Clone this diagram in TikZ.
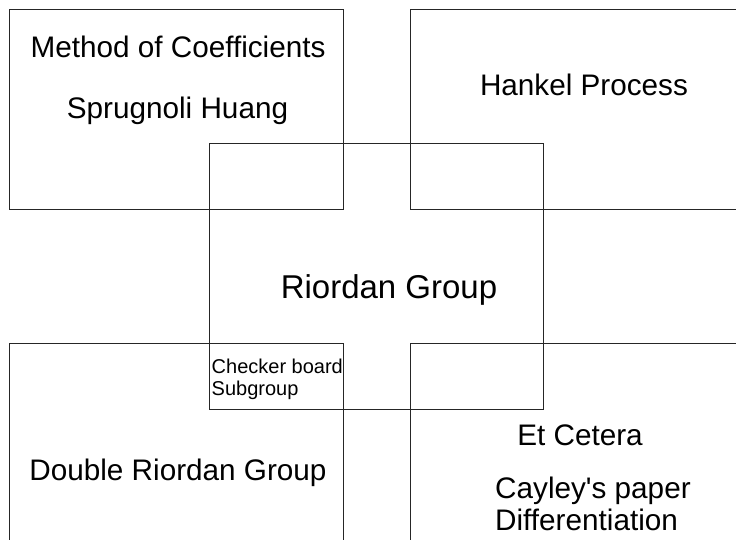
\documentclass[tikz,border=0pt]{standalone}
\usepackage{fontspec}
\setmainfont{Liberation Sans}[Ligatures=TeXOff]
\begin{document}
\begin{tikzpicture}[x=1pt,y=-1pt,
  panel/.style={draw=black!85,line width=1pt,inner sep=0pt,outer sep=0pt},
  big/.style={font=\fontsize{29.7}{34}\selectfont,inner sep=0pt},
  huge/.style={font=\fontsize{33}{38}\selectfont,inner sep=0pt},
  small/.style={font=\fontsize{20}{22}\selectfont,inner sep=0pt}]
\useasboundingbox (0,0) rectangle (736,539);
\clip (0,0) rectangle (736,539);
\draw[panel] (9.5,9.5) rectangle (343,209) coordinate (tl);
\draw[panel] (410,9.5) rectangle (745,209) coordinate (tr);
\draw[panel] (209,143) rectangle (543,409) coordinate (cc);
\draw[panel] (9.5,343) rectangle (343,550) coordinate (bl);
\draw[panel] (410,343) rectangle (745,550) coordinate (br);
\node[big,anchor=base] (moc) at (178,57) {Method of Coefficients};
\node[big,anchor=base] (sh) at (177.5,118) {Sprugnoli Huang};
\node[big,anchor=base] (hp) at (584,95) {Hankel Process};
\node[huge,anchor=base] (rg) at (389,298) {Riordan Group};
\node[small,anchor=base west] (cb) at (211.5,373) {Checker board};
\node[small,anchor=base west] (sg) at (211.5,395) {Subgroup};
\node[big,anchor=base] (drg) at (178,480) {Double Riordan Group};
\node[big,anchor=base] (ec) at (580,445) {Et Cetera};
\node[big,anchor=base west] (cp) at (495,498) {Cayley's paper};
\node[big,anchor=base west] (df) at (495,530) {Differentiation};
\end{tikzpicture}
\end{document}
